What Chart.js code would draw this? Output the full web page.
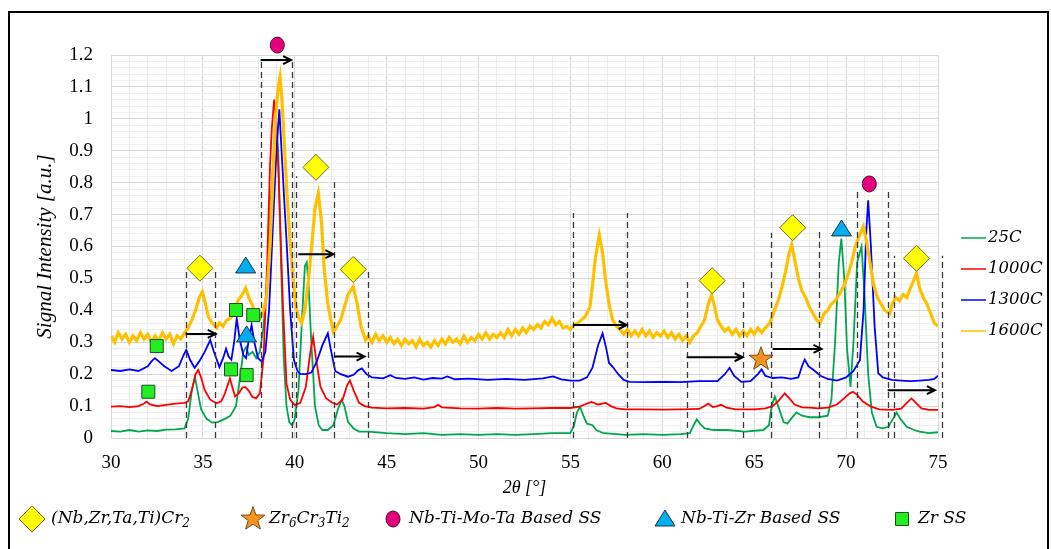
<!DOCTYPE html>
<html>
<head>
<meta charset="utf-8">
<script src="https://cdn.jsdelivr.net/npm/chart.js@4.4.1/dist/chart.umd.min.js"></script>
<style>
html, body { margin: 0; padding: 0; background: #fff; }
#wrap { position: relative; width: 1051px; height: 549px; overflow: hidden; }
#frame { position: absolute; left: 8px; top: 11px; width: 1041px; height: 580px; border: 2px solid #000; box-sizing: border-box; }
canvas { position: absolute; left: 0; top: 0; }
</style>
</head>
<body>
<div id="wrap">
  <div id="frame"></div>
  <canvas id="myChart" width="1051" height="549"></canvas>
</div>
<script>
// XRD patterns, [2theta, intensity]
const s25C = [[30,0.022],[30.5,0.02],[31,0.025],[31.5,0.02],[32,0.024],[32.5,0.022],[33,0.026],[33.5,0.027],[34,0.03],[34.2,0.06],[34.4,0.15],[34.57,0.19],[34.7,0.15],[34.9,0.09],[35.2,0.06],[35.5,0.048],[35.8,0.05],[36.2,0.06],[36.5,0.07],[36.8,0.1],[37.0,0.18],[37.2,0.27],[37.35,0.285],[37.5,0.26],[37.7,0.27],[37.9,0.25],[38.1,0.27],[38.3,0.35],[38.5,0.5],[38.7,0.75],[38.9,0.93],[39.0,0.975],[39.1,0.9],[39.25,0.55],[39.4,0.25],[39.55,0.1],[39.7,0.05],[39.85,0.04],[40.0,0.06],[40.2,0.15],[40.4,0.38],[40.55,0.54],[40.65,0.55],[40.75,0.48],[40.9,0.3],[41.1,0.1],[41.3,0.04],[41.5,0.025],[41.8,0.025],[42.1,0.04],[42.35,0.09],[42.55,0.12],[42.7,0.1],[42.9,0.05],[43.2,0.03],[43.5,0.02],[44,0.02],[45,0.015],[46,0.012],[47,0.015],[48,0.01],[49,0.012],[50,0.01],[51,0.012],[52,0.01],[53,0.012],[54,0.015],[55,0.015],[55.2,0.04],[55.35,0.08],[55.52,0.098],[55.7,0.07],[55.9,0.045],[56.2,0.04],[56.4,0.025],[56.8,0.015],[57.5,0.012],[58,0.01],[59,0.012],[60,0.01],[61,0.012],[61.5,0.015],[61.7,0.04],[61.87,0.058],[62.05,0.045],[62.3,0.03],[62.8,0.025],[63.5,0.025],[64.5,0.02],[65.5,0.025],[65.8,0.04],[65.95,0.1],[66.12,0.13],[66.3,0.1],[66.6,0.05],[66.8,0.045],[67.0,0.06],[67.3,0.08],[67.6,0.07],[68,0.065],[68.5,0.065],[69.0,0.07],[69.2,0.12],[69.4,0.3],[69.6,0.55],[69.74,0.625],[69.9,0.5],[70.05,0.28],[70.24,0.16],[70.4,0.3],[70.6,0.55],[70.84,0.6],[71.0,0.45],[71.2,0.2],[71.4,0.08],[71.66,0.035],[72.0,0.03],[72.3,0.035],[72.55,0.06],[72.75,0.08],[72.95,0.06],[73.3,0.035],[73.7,0.025],[74,0.02],[74.5,0.015],[75,0.018]];

const s1000C = [[30,0.098],[30.5,0.1],[31,0.097],[31.5,0.1],[31.8,0.108],[31.94,0.114],[32.1,0.106],[32.5,0.1],[33,0.104],[33.5,0.108],[34,0.11],[34.2,0.115],[34.4,0.15],[34.6,0.2],[34.75,0.213],[34.9,0.19],[35.1,0.15],[35.4,0.12],[35.75,0.109],[36.0,0.115],[36.2,0.14],[36.47,0.187],[36.6,0.16],[36.75,0.13],[36.95,0.14],[37.15,0.158],[37.3,0.16],[37.5,0.148],[37.7,0.128],[37.9,0.125],[38.1,0.14],[38.3,0.25],[38.5,0.55],[38.65,0.85],[38.75,0.97],[38.88,1.06],[38.98,1.0],[39.1,0.85],[39.25,0.6],[39.36,0.41],[39.55,0.17],[39.75,0.12],[40.0,0.103],[40.3,0.11],[40.6,0.16],[40.85,0.27],[41.0,0.317],[41.15,0.25],[41.4,0.16],[41.7,0.125],[42.0,0.112],[42.3,0.105],[42.6,0.12],[42.85,0.165],[43.0,0.18],[43.2,0.15],[43.5,0.11],[43.8,0.1],[44.2,0.095],[45,0.093],[46,0.094],[47,0.092],[47.6,0.097],[47.8,0.104],[48.0,0.096],[49,0.093],[50,0.092],[51,0.094],[52,0.092],[53,0.093],[54,0.094],[55,0.094],[55.5,0.098],[55.9,0.108],[56.15,0.113],[56.5,0.105],[56.93,0.11],[57.2,0.1],[57.5,0.093],[58,0.09],[59,0.09],[60,0.089],[61,0.09],[62,0.091],[62.3,0.1],[62.5,0.108],[62.75,0.097],[63.0,0.1],[63.2,0.104],[63.5,0.095],[64,0.09],[65,0.09],[65.6,0.093],[66.0,0.1],[66.3,0.115],[66.66,0.14],[66.9,0.125],[67.2,0.105],[67.6,0.096],[68,0.095],[68.5,0.093],[69,0.095],[69.5,0.105],[69.9,0.125],[70.2,0.14],[70.38,0.145],[70.6,0.135],[70.9,0.115],[71.3,0.1],[71.8,0.09],[72.5,0.088],[73,0.092],[73.3,0.11],[73.56,0.124],[73.8,0.11],[74.1,0.093],[74.5,0.088],[75,0.088]];

const s1300C = [[30,0.213],[30.5,0.21],[31,0.215],[31.5,0.21],[32,0.225],[32.2,0.24],[32.39,0.25],[32.6,0.24],[32.9,0.225],[33.3,0.21],[33.7,0.225],[33.95,0.26],[34.1,0.276],[34.3,0.245],[34.55,0.22],[34.8,0.24],[35.1,0.27],[35.4,0.307],[35.6,0.27],[35.9,0.222],[36.1,0.25],[36.26,0.28],[36.4,0.255],[36.55,0.245],[36.7,0.3],[36.84,0.375],[37.0,0.31],[37.2,0.26],[37.35,0.25],[37.5,0.31],[37.65,0.354],[37.8,0.3],[38.0,0.25],[38.2,0.24],[38.4,0.27],[38.6,0.4],[38.8,0.65],[39.0,0.9],[39.16,1.03],[39.3,0.88],[39.45,0.72],[39.55,0.62],[39.75,0.4],[39.95,0.245],[40.15,0.21],[40.3,0.2],[40.6,0.2],[40.9,0.205],[41.2,0.24],[41.5,0.29],[41.8,0.328],[41.95,0.28],[42.2,0.21],[42.5,0.2],[42.9,0.192],[43.2,0.198],[43.45,0.212],[43.65,0.218],[43.9,0.2],[44.2,0.19],[44.8,0.187],[45.2,0.197],[45.5,0.188],[46,0.185],[46.5,0.19],[47,0.183],[47.5,0.188],[48,0.186],[48.3,0.193],[48.7,0.184],[49.5,0.186],[50.5,0.182],[51.5,0.185],[52.5,0.182],[53.5,0.187],[54.06,0.193],[54.5,0.184],[55,0.18],[55.5,0.18],[55.9,0.19],[56.2,0.22],[56.5,0.29],[56.75,0.328],[56.95,0.28],[57.1,0.235],[57.3,0.223],[57.6,0.2],[57.9,0.182],[58.2,0.176],[59,0.175],[60,0.176],[61,0.175],[62,0.178],[63,0.178],[63.4,0.2],[63.66,0.22],[63.9,0.195],[64.3,0.176],[64.8,0.178],[65.2,0.2],[65.4,0.215],[65.6,0.195],[66,0.188],[66.5,0.19],[67,0.185],[67.4,0.19],[67.6,0.225],[67.75,0.246],[67.95,0.225],[68.3,0.21],[68.6,0.195],[69,0.185],[69.5,0.18],[70.0,0.19],[70.4,0.21],[70.75,0.244],[70.95,0.4],[71.1,0.65],[71.2,0.745],[71.35,0.6],[71.55,0.35],[71.75,0.203],[72.0,0.19],[72.5,0.182],[73,0.18],[73.5,0.178],[74,0.18],[74.5,0.182],[74.8,0.185],[75,0.195]];

const s1600C = [[30,0.32],[30.2,0.30],[30.4,0.33],[30.6,0.31],[30.8,0.325],[31,0.3],[31.2,0.32],[31.4,0.305],[31.6,0.33],[31.8,0.31],[32,0.325],[32.2,0.3],[32.4,0.32],[32.6,0.305],[32.8,0.33],[33,0.31],[33.2,0.325],[33.4,0.295],[33.6,0.32],[33.8,0.31],[34,0.33],[34.2,0.345],[34.4,0.37],[34.6,0.4],[34.8,0.44],[34.97,0.458],[35.1,0.43],[35.3,0.38],[35.5,0.36],[35.75,0.345],[35.9,0.36],[36.1,0.35],[36.3,0.37],[36.5,0.375],[36.7,0.395],[36.9,0.43],[37.1,0.445],[37.33,0.47],[37.5,0.44],[37.7,0.415],[37.9,0.385],[38.1,0.375],[38.3,0.4],[38.47,0.443],[38.65,0.6],[38.8,0.8],[38.95,1.0],[39.1,1.1],[39.2,1.132],[39.3,1.06],[39.45,0.9],[39.6,0.74],[39.74,0.62],[39.9,0.5],[40.05,0.42],[40.19,0.38],[40.37,0.36],[40.55,0.4],[40.75,0.5],[40.95,0.62],[41.1,0.72],[41.28,0.767],[41.45,0.68],[41.6,0.53],[41.8,0.42],[42.0,0.36],[42.1,0.333],[42.3,0.35],[42.5,0.37],[42.7,0.41],[42.9,0.45],[43.18,0.474],[43.4,0.42],[43.6,0.35],[43.85,0.307],[44,0.32],[44.2,0.3],[44.4,0.325],[44.6,0.305],[44.8,0.32],[45,0.3],[45.2,0.315],[45.4,0.295],[45.6,0.31],[45.8,0.29],[46,0.31],[46.2,0.295],[46.4,0.305],[46.6,0.285],[46.8,0.31],[47,0.29],[47.2,0.3],[47.4,0.285],[47.6,0.305],[47.8,0.29],[48,0.31],[48.2,0.295],[48.4,0.315],[48.6,0.3],[48.8,0.31],[49,0.295],[49.2,0.32],[49.4,0.3],[49.6,0.315],[49.8,0.305],[50,0.325],[50.2,0.31],[50.4,0.33],[50.6,0.31],[50.8,0.325],[51,0.315],[51.2,0.33],[51.4,0.315],[51.6,0.34],[51.8,0.32],[52,0.34],[52.2,0.325],[52.4,0.345],[52.6,0.33],[52.8,0.35],[53,0.34],[53.2,0.355],[53.4,0.345],[53.6,0.365],[53.8,0.355],[54,0.375],[54.2,0.355],[54.4,0.365],[54.6,0.345],[54.8,0.35],[55,0.34],[55.2,0.355],[55.4,0.36],[55.6,0.37],[55.8,0.38],[56.06,0.41],[56.2,0.48],[56.35,0.56],[56.57,0.636],[56.75,0.58],[56.9,0.5],[57.1,0.42],[57.3,0.37],[57.5,0.35],[57.7,0.34],[57.9,0.325],[58.1,0.34],[58.3,0.32],[58.5,0.335],[58.7,0.32],[58.9,0.34],[59.1,0.32],[59.3,0.335],[59.5,0.315],[59.7,0.33],[59.9,0.32],[60.1,0.335],[60.3,0.315],[60.5,0.33],[60.7,0.31],[60.9,0.325],[61.1,0.305],[61.3,0.32],[61.5,0.3],[61.7,0.32],[61.9,0.33],[62.1,0.35],[62.3,0.37],[62.5,0.42],[62.68,0.448],[62.85,0.41],[63.0,0.37],[63.2,0.35],[63.4,0.335],[63.6,0.345],[63.8,0.325],[64.0,0.34],[64.2,0.32],[64.4,0.335],[64.6,0.32],[64.8,0.34],[65.0,0.325],[65.2,0.345],[65.4,0.33],[65.6,0.345],[65.85,0.36],[66.1,0.4],[66.3,0.43],[66.5,0.47],[66.7,0.52],[66.9,0.58],[67.04,0.605],[67.2,0.56],[67.4,0.5],[67.6,0.46],[67.8,0.44],[68.0,0.41],[68.2,0.39],[68.4,0.37],[68.58,0.36],[68.8,0.39],[69.0,0.4],[69.2,0.42],[69.4,0.43],[69.66,0.453],[69.9,0.48],[70.1,0.51],[70.3,0.55],[70.5,0.6],[70.7,0.63],[70.93,0.662],[71.1,0.62],[71.3,0.55],[71.5,0.48],[71.7,0.44],[71.9,0.42],[72.1,0.4],[72.38,0.39],[72.5,0.42],[72.7,0.44],[72.9,0.43],[73.1,0.45],[73.3,0.44],[73.5,0.47],[73.65,0.49],[73.83,0.516],[74.0,0.47],[74.2,0.44],[74.4,0.42],[74.6,0.39],[74.8,0.36],[75,0.35]];

const seriesNames = ['25C', '1000C', '1300C', '1600C'];
const seriesColors = ['#00a651', '#ff0000', '#0000ff', '#ffc000'];

// phase markers [2theta, intensity]
const diamondPts = [[34.84,0.532],[41.15,0.848],[43.18,0.528],[62.71,0.493],[67.09,0.659],[73.83,0.563]];
const starPts = [[65.37,0.247]];
const circlePts = [[39.05,1.231],[71.26,0.796]];
const trianglePts = [[37.33,0.539],[37.38,0.323],[69.75,0.655]];
const squarePts = [[32.03,0.145],[32.49,0.288],[36.53,0.215],[36.8,0.401],[37.38,0.197],[37.74,0.385]];

// dashed guide lines [2theta, top]  and shift arrows [from, to, level]
const dashLines = [[34.06,0.52],[35.66,0.52],[38.14,1.19],[39.83,1.19],[40.07,0.82],[42.12,0.81],[44.0,0.52],[55.12,0.705],[58.06,0.705],[61.32,0.495],[64.37,0.49],[65.91,0.643],[68.54,0.648],[70.57,0.782],[72.26,0.775],[72.61,0.571],[75.24,0.571]];
const arrows = [[34.06,35.7,0.326],[38.14,39.8,1.184],[40.19,42.1,0.576],[42.13,43.8,0.255],[55.15,58.06,0.354],[61.32,64.37,0.253],[66.0,68.66,0.279],[72.26,74.83,0.15]];

const phaseLabels = [
    [['(Nb,Zr,Ta,Ti)Cr', 0], ['2', 1]],
    [['Zr', 0], ['6', 1], ['Cr', 0], ['3', 1], ['Ti', 0], ['2', 1]],
    [['Nb-Ti-Mo-Ta Based SS', 0]],
    [['Nb-Ti-Zr Based SS', 0]],
    [['Zr SS', 0]]
];

const SERIF = "'Liberation Serif', 'DejaVu Serif', serif";
const WIDE = "'DejaVu Serif', 'Liberation Serif', serif";

function shape(ctx, kind, px, py) {
    ctx.beginPath();
    if (kind === 'diamond') {
        ctx.moveTo(px, py - 13); ctx.lineTo(px + 13, py); ctx.lineTo(px, py + 13); ctx.lineTo(px - 13, py); ctx.closePath();
        ctx.fillStyle = '#ffff00'; ctx.strokeStyle = '#6b6b35';
    } else if (kind === 'star') {
        for (let i = 0; i < 10; i++) {
            const r = i % 2 ? 5 : 12.5;
            const a = -Math.PI / 2 + i * Math.PI / 5;
            ctx.lineTo(px + r * Math.cos(a), py + r * Math.sin(a));
        }
        ctx.closePath();
        ctx.fillStyle = '#f7941d'; ctx.strokeStyle = '#7a4a12';
    } else if (kind === 'circle') {
        ctx.ellipse(px, py, 7, 8, 0, 0, Math.PI * 2);
        ctx.fillStyle = '#e4007c'; ctx.strokeStyle = '#4a1030';
    } else if (kind === 'triangle') {
        ctx.moveTo(px, py - 9); ctx.lineTo(px + 10, py + 7); ctx.lineTo(px - 10, py + 7); ctx.closePath();
        ctx.fillStyle = '#00aeef'; ctx.strokeStyle = '#1b3550';
    } else {
        ctx.rect(px - 6.5, py - 6.5, 13, 13);
        ctx.fillStyle = '#22ee22'; ctx.strokeStyle = '#1c4d1c';
    }
    ctx.lineWidth = 1;
    ctx.fill();
    ctx.stroke();
}

function richText(ctx, parts, x, y) {
    let cx = x;
    parts.forEach(([t, sub]) => {
        ctx.font = sub ? 'italic 12px ' + WIDE : 'italic 17px ' + WIDE;
        ctx.fillText(t, cx, sub ? y + 5 : y);
        cx += ctx.measureText(t).width;
    });
}

const annotations = {
    id: 'annotations',
    afterDatasetsDraw(chart) {
        const { ctx, scales: { x, y } } = chart;
        ctx.save();
        const y0 = y.getPixelForValue(0);

        ctx.strokeStyle = '#3a3a3a';
        ctx.lineWidth = 1.3;
        ctx.setLineDash([6, 4]);
        dashLines.forEach(([v, top]) => {
            const px = Math.round(x.getPixelForValue(v)) + 0.5;
            ctx.beginPath();
            ctx.moveTo(px, y0);
            ctx.lineTo(px, y.getPixelForValue(top));
            ctx.stroke();
        });
        ctx.setLineDash([]);

        ctx.strokeStyle = '#000';
        ctx.lineWidth = 2;
        arrows.forEach(([a, b, lv]) => {
            const x1 = x.getPixelForValue(a), x2 = x.getPixelForValue(b), py = y.getPixelForValue(lv);
            ctx.beginPath();
            ctx.moveTo(x1, py); ctx.lineTo(x2, py);
            ctx.moveTo(x2 - 8, py - 4); ctx.lineTo(x2, py); ctx.lineTo(x2 - 8, py + 4);
            ctx.stroke();
        });

        const groups = [['diamond', diamondPts], ['star', starPts], ['circle', circlePts], ['triangle', trianglePts], ['square', squarePts]];
        groups.forEach(([kind, pts]) => {
            pts.forEach(([a, b]) => shape(ctx, kind, x.getPixelForValue(a), y.getPixelForValue(b)));
        });
        ctx.restore();
    },
    afterDraw(chart) {
        const ctx = chart.ctx;
        ctx.save();
        ctx.textBaseline = 'middle';
        ctx.fillStyle = '#000';

        // series legend on the right
        seriesNames.forEach((n, i) => {
            const ly = 238 + i * 31;
            ctx.strokeStyle = seriesColors[i];
            ctx.lineWidth = 2;
            ctx.globalAlpha = 0.75;
            ctx.beginPath(); ctx.moveTo(961, ly); ctx.lineTo(986, ly); ctx.stroke();
            ctx.globalAlpha = 1;
            ctx.font = 'italic 16.5px ' + WIDE;
            ctx.fillStyle = '#000';
            ctx.fillText(n, 988, ly);
        });

        // phase legend at the bottom
        const kinds = ['diamond', 'star', 'circle', 'triangle', 'square'];
        const markX = [32, 253, 393, 665, 902];
        kinds.forEach((k, i) => {
            shape(ctx, k, markX[i], 519);
            ctx.fillStyle = '#000';
            richText(ctx, phaseLabels[i], markX[i] + (i === 0 ? 19 : 16), 519);
        });
        ctx.restore();
    }
};

const ctx = document.getElementById('myChart').getContext('2d');

const myChart = new Chart(ctx, {
    type: 'line',
    data: {
        datasets: [s25C, s1000C, s1300C, s1600C].map((s, i) => ({
            label: seriesNames[i],
            data: s.map(([a, b]) => ({ x: a, y: b })),
            borderColor: seriesColors[i],
            borderWidth: i === 3 ? 3.2 : 1.8,
            pointRadius: 0,
            tension: 0,
            order: 3 - i
        }))
    },
    options: {
        responsive: false,
        animation: false,
        layout: { padding: { left: 33, right: 113, top: 55, bottom: 46 } },
        plugins: { legend: { display: false }, tooltip: { enabled: false } },
        scales: {
            x: {
                type: 'linear',
                min: 30,
                max: 75,
                afterFit: (s) => { s.height = 65; },
                ticks: {
                    stepSize: 1,
                    autoSkip: false,
                    maxRotation: 0,
                    padding: 14,
                    color: '#000',
                    font: { family: SERIF, size: 19 },
                    callback: (v) => (v % 5 === 0 ? String(v) : '')
                },
                grid: {
                    drawTicks: false,
                    color: (c) => (c.tick && c.tick.value % 5 === 0 ? '#d6d6d6' : '#ececec')
                },
                border: { color: '#d6d6d6' },
                title: {
                    display: true,
                    text: '2θ [°]',
                    color: '#000',
                    font: { family: SERIF, size: 18, style: 'italic' },
                    padding: { top: 4, bottom: 4 }
                }
            },
            y: {
                min: 0,
                max: 1.2,
                afterFit: (s) => { s.width = 78; },
                ticks: {
                    stepSize: 0.02,
                    autoSkip: false,
                    padding: 18,
                    color: '#000',
                    font: { family: SERIF, size: 19 },
                    callback: (v) => (Math.round(v * 100) % 10 === 0 ? String(Math.round(v * 10) / 10) : '')
                },
                grid: {
                    drawTicks: false,
                    color: (c) => (c.tick && Math.round(c.tick.value * 100) % 10 === 0 ? '#d9d9d9' : '#efefef')
                },
                border: { color: '#d6d6d6' },
                title: {
                    display: true,
                    text: 'Signal Intensity [a.u.]',
                    color: '#000',
                    font: { family: SERIF, size: 21, style: 'italic' },
                    padding: { top: 0, bottom: 2 }
                }
            }
        }
    },
    plugins: [annotations]
});
</script>
</body>
</html>
